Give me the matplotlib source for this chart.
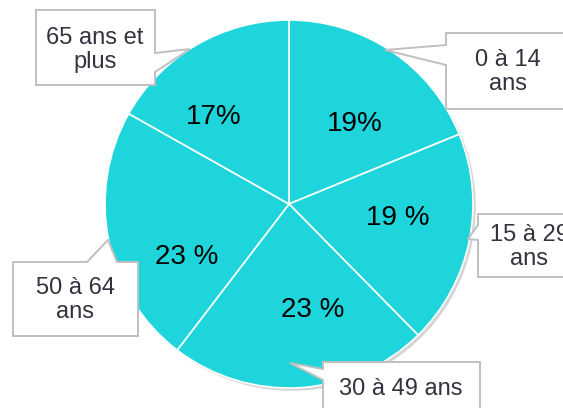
import matplotlib.pyplot as plt
from matplotlib.patches import Circle, Polygon
import matplotlib.patheffects as pe

plt.rcParams['font.family'] = ['Liberation Sans', 'DejaVu Sans']

# Données
tranches = ['0 à 14\nans', '15 à 29\nans', '30 à 49 ans', '50 à 64\nans', '65 ans et\nplus']
valeurs = [19, 19, 23, 23, 17]
etiquettes_pct = ['19%', '19 %', '23 %', '23 %', '17%']

couleur = '#1FD5DC'
H = 408  # hauteur en pixels (coordonnées image -> axes)

fig = plt.figure(figsize=(5.63, 4.08), dpi=100)
ax = fig.add_axes([0, 0, 1, 1])

cx, cy, r = 289, 204, 184

# disque de fond avec ombre
fond = Circle((cx, H - cy), r, facecolor=couleur, edgecolor='none', zorder=0,
              path_effects=[pe.SimplePatchShadow(offset=(2, -2), shadow_rgbFace='#888888', alpha=0.35),
                            pe.Normal()])
ax.add_patch(fond)

ax.pie(valeurs, colors=[couleur] * 5, startangle=90, counterclock=False,
       center=(cx, H - cy), radius=r, frame=True,
       wedgeprops=dict(edgecolor='white', linewidth=1.2))
ax.set_xlim(0, 563)
ax.set_ylim(0, H)
ax.set_aspect('equal')
ax.axis('off')

# pourcentages (positions en pixels, origine en haut à gauche)
pos_pct = [(355, 124), (398, 218), (313, 310), (187, 257), (214, 117)]
for (x, y), t in zip(pos_pct, etiquettes_pct):
    ax.text(x, H - y, t, ha='center', va='center', fontsize=20, color='black', zorder=5)


def bulle(x0, y0, x1, y1, cote, b0, b1, pointe):
    tl, tr, br, bl = (x0, y0), (x1, y0), (x1, y1), (x0, y1)
    if cote == 'haut':
        pts = [tl, (b0, y0), pointe, (b1, y0), tr, br, bl]
    elif cote == 'droite':
        pts = [tl, tr, (x1, b0), pointe, (x1, b1), br, bl]
    else:
        pts = [tl, tr, br, bl, (x0, b1), pointe, (x0, b0)]
    return Polygon([(x, H - y) for x, y in pts], closed=True, fc='white',
                   ec='#c0c0c0', lw=1.4, zorder=6, joinstyle='miter')


# cadres des étiquettes : (centre texte), (rectangle), côté de la pointe, base, pointe
cadres = [
    ((508, 72), (446, 33, 580, 109), 'gauche', 45, 65, (385, 50)),
    ((529, 247), (478, 214, 580, 277), 'gauche', 225, 240, (468, 239)),
    ((401, 389), (323, 362, 480, 420), 'gauche', 369, 380, (290, 363)),
    ((75, 300), (13, 262, 138, 336), 'haut', 87, 117, (108, 240)),
    ((95, 50), (36, 10, 155, 85), 'droite', 53, 72, (190, 49)),
]
for t, (centre, rect, cote, b0, b1, pointe) in zip(tranches, cadres):
    ax.add_patch(bulle(*rect, cote, b0, b1, pointe))
    ax.text(centre[0], H - centre[1], t, ha='center', va='center', fontsize=17,
            color='#333340', linespacing=1.15, zorder=7)

fig.savefig('out.png', dpi=100)
